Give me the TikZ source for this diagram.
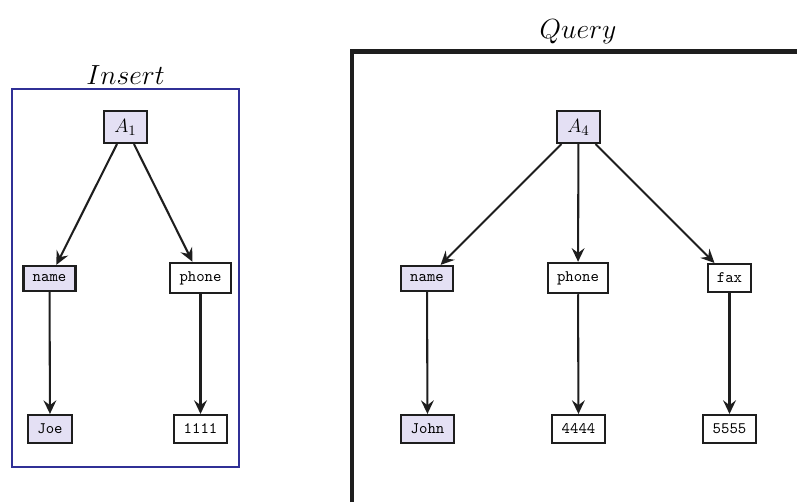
\documentclass[tikz,border=0pt]{standalone}
\usetikzlibrary{arrows.meta}
\definecolor{lav}{RGB}{228,224,244}
\definecolor{insblue}{RGB}{48,48,150}
\definecolor{ink}{RGB}{30,30,30}
\begin{document}
\begin{tikzpicture}[x=0.625pt,y=-0.625pt,
  box/.style={draw=ink,line width=1.3pt,inner sep=0pt,font=\ttfamily},
  hl/.style={fill=lav},
  arr/.style={draw=ink,line width=1.3pt,-{Stealth[length=8.5pt,width=8pt,inset=3pt]}},
  title/.style={font=\fontsize{18.5}{22}\selectfont,inner sep=0pt}]
\useasboundingbox (0,0) rectangle (797,502);
% Insert
\draw[insblue,line width=1.2pt] (12,89) rectangle (239,467);
\node[title] (tins) at (125.5,75) {$Insert$};
\node[box,hl,minimum width=27pt,minimum height=20pt,font=\fontsize{12.5}{15}\selectfont] (a1) at (125.5,127) {$A_1$};
\node[box,hl,minimum width=32.5pt,minimum height=15.7pt] (n1) at (49.5,278.5) {name};
\node[box,minimum width=38pt,minimum height=19pt] (p1) at (200.5,278) {phone};
\node[box,hl,minimum width=27.5pt,minimum height=17.5pt] (j1) at (50,429) {Joe};
\node[box,minimum width=33pt,minimum height=17.5pt] (v1) at (200.5,429) {1111};
\draw[arr] (a1) -- (n1);
\draw[arr] (a1) -- (p1);
\draw[arr] (n1) -- (j1);
\draw[arr] (p1) -- (v1);
% Query
\draw[ink,line width=3.1pt] (352,502) -- (352,51.5) -- (797,51.5);
\node[title] (tq) at (578,32) {$Query$};
\node[box,hl,minimum width=27pt,minimum height=20pt,font=\fontsize{12.5}{15}\selectfont] (a4) at (578.5,127) {$A_4$};
\node[box,hl,minimum width=32.5pt,minimum height=15.7pt] (n4) at (427,278.5) {name};
\node[box,minimum width=38pt,minimum height=19pt] (p4) at (578,278) {phone};
\node[box,minimum width=27pt,minimum height=17.5pt] (f4) at (729.5,278) {fax};
\node[box,hl,minimum width=33pt,minimum height=17.5pt] (j4) at (427.5,429) {John};
\node[box,minimum width=33pt,minimum height=17.5pt] (v4) at (578.5,429) {4444};
\node[box,minimum width=33pt,minimum height=17.5pt] (w4) at (729.5,429) {5555};
\draw[arr] (a4) -- (n4);
\draw[arr] (a4) -- (p4);
\draw[arr] (a4) -- (f4);
\draw[arr] (n4) -- (j4);
\draw[arr] (p4) -- (v4);
\draw[arr] (f4) -- (w4);
\end{tikzpicture}
\end{document}
